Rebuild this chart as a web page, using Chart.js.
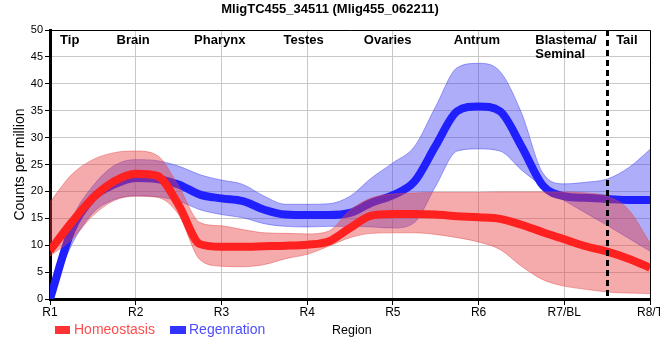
<!DOCTYPE html>
<html><head><meta charset="utf-8">
<script src="https://cdn.jsdelivr.net/npm/chart.js@4.4.1/dist/chart.umd.min.js"></script>
<style>html,body{margin:0;padding:0;background:#fff}</style>
</head><body>
<canvas id="c" width="660" height="360"></canvas>
<script>
// positions along the body (R1..R8), quarter steps
const xs = [1,1.25,1.5,1.75,2,2.25,2.5,2.75,3,3.25,3.5,3.75,4,4.25,4.5,4.75,5,5.25,5.5,5.75,6,6.25,6.5,6.75,7,7.25,7.5,7.75,8];
const homeostasis = [9.0,14.2,18.8,21.9,23.3,22.9,17.5,10.2,9.7,9.7,9.8,9.9,10.1,10.7,13.2,15.5,15.8,15.8,15.7,15.4,15.2,14.9,13.8,12.4,11.1,9.8,8.8,7.5,5.8];
const homeostasisUpper = [18,23.1,25.9,27.2,27.5,26.7,21,14.2,13.6,12.9,12.3,12.2,12.1,12.6,16.5,18.8,19.5,19.7,19.8,19.8,19.8,19.9,19.9,19.9,19.9,19.7,19.1,16.6,10.4];
const homeostasisLower = [8,11,15.5,18.3,19.1,18.9,15.7,7.3,6.1,6.0,6.4,7.5,8.3,9.8,11.4,12.2,12.3,12.3,12.0,11.4,10.6,9.2,6.1,3.6,2.4,1.8,1.3,1.1,1.0];
const regeneration = [0,12.7,18.8,21.3,22.5,22.3,21.3,19.4,18.7,18.2,16.6,15.7,15.6,15.6,16.0,17.9,19.3,21.8,28.5,34.9,35.8,34.9,28.4,21.1,19.1,18.8,18.6,18.4,18.4];
const regenerationUpper = [1,14.5,21,24.8,25.9,25.7,24.7,23.1,22.1,21.3,19.1,17.6,17.6,17.7,19.1,22.5,25.3,28.3,35.8,43.0,43.8,42.3,34.6,23.4,21.4,21.7,22.3,24.4,27.8];
const regenerationLower = [0,10,16,18.5,19.2,19.0,18.2,16.6,15.7,15.1,14.0,13.5,13.4,13.5,13.5,13.4,13.2,14.2,21.0,27.5,27.9,27.5,24,20.9,18.3,16.0,13.7,11.3,8.9];
const xTickLabels = ['R1','R2','R3','R4','R5','R6','R7/BL','R8/T'];
const regionNames = ['Tip','Brain','Pharynx','Testes','Ovaries','Antrum','Blastema/\nSeminal','Tail'];
const regionPos = [1.23,1.97,2.98,3.96,4.94,5.98,7.02,7.73];
const dashX = 7.5;
const titleText = 'MligTC455_34511 (Mlig455_062211)';

const FONT = '"Liberation Sans", Arial, sans-serif';
const pts = arr => arr.map((v,i)=>({x:xs[i], y:v}));
const common = {pointRadius:0, cubicInterpolationMode:'monotone'};

const custom = {
  id:'custom',
  afterDatasetsDraw(chart){
    const {ctx, chartArea:a, scales:{x}} = chart;
    ctx.save();
    const px = Math.round(x.getPixelForValue(dashX))+0.5;
    ctx.strokeStyle='#000'; ctx.lineWidth=3; ctx.setLineDash([6,4]);
    ctx.beginPath(); ctx.moveTo(px,a.top); ctx.lineTo(px,a.bottom); ctx.stroke();
    ctx.setLineDash([]);
    ctx.lineWidth=1;
    ctx.beginPath(); ctx.moveTo(a.left,a.top+0.5); ctx.lineTo(a.right+0.5,a.top+0.5); ctx.lineTo(a.right+0.5,a.bottom); ctx.stroke();
    ctx.restore();
  },
  afterDraw(chart){
    const {ctx, chartArea:a, scales:{x}} = chart;
    ctx.save();
    ctx.fillStyle='#000';
    ctx.font='bold 13px '+FONT; ctx.textAlign='center'; ctx.textBaseline='middle';
    ctx.fillText(titleText, 330, 9);
    ctx.font='bold 13px '+FONT; ctx.textAlign='left'; ctx.textBaseline='alphabetic';
    regionNames.forEach((n,i)=>{
      const lines=n.split('\n');
      const w=ctx.measureText(lines[0]).width;
      const left=x.getPixelForValue(regionPos[i])-w/2;
      lines.forEach((l,j)=>ctx.fillText(l,left,44+j*14));
    });
    ctx.font='12px '+FONT; ctx.textAlign='center'; ctx.textBaseline='middle';
    xTickLabels.forEach((l,i)=>ctx.fillText(l, x.getPixelForValue(i+1), 313));
    ctx.save(); ctx.translate(20,(a.top+a.bottom)/2); ctx.rotate(-Math.PI/2);
    ctx.font='14px '+FONT; ctx.fillText('Counts per million',0,0); ctx.restore();
    ctx.font='14px '+FONT; ctx.textAlign='left'; ctx.textBaseline='middle';
    ctx.fillStyle='#ff3333'; ctx.fillRect(55,326,15,8);
    ctx.fillStyle='#ff4d4d'; ctx.fillText('Homeostasis',74,330.5);
    ctx.fillStyle='#3333ff'; ctx.fillRect(170,326,16,8);
    ctx.fillStyle='#4d4dff'; ctx.fillText('Regenration',189,330.5);
    ctx.fillStyle='#000'; ctx.font='12.5px '+FONT; ctx.fillText('Region',332,331);
    ctx.restore();
  }
};

new Chart(document.getElementById('c'), {
  type:'line',
  data:{datasets:[
    {label:'Homeostasis', data:pts(homeostasis), borderColor:'#ff2020', borderWidth:8, fill:false, ...common},
    {label:'hu', data:pts(homeostasisUpper), borderColor:'rgba(225,70,70,0.45)', borderWidth:1, backgroundColor:'rgba(232,60,60,0.43)', fill:'+1', ...common},
    {label:'hl', data:pts(homeostasisLower), borderColor:'rgba(225,70,70,0.45)', borderWidth:1, fill:false, ...common},
    {label:'Regenration', data:pts(regeneration), borderColor:'#2020ff', borderWidth:8, fill:false, ...common},
    {label:'ru', data:pts(regenerationUpper), borderColor:'rgba(60,60,240,0.45)', borderWidth:1, backgroundColor:'rgba(60,60,240,0.42)', fill:'+1', ...common},
    {label:'rl', data:pts(regenerationLower), borderColor:'rgba(60,60,240,0.45)', borderWidth:1, fill:false, ...common}
  ]},
  options:{
    responsive:false, animation:false, devicePixelRatio:1,
    layout:{padding:{top:30,right:10,left:0,bottom:0}},
    plugins:{legend:{display:false}, tooltip:{enabled:false}, title:{display:false}},
    scales:{
      x:{type:'linear', min:1, max:8, ticks:{stepSize:1, display:false},
         grid:{color:'#c8c8c8', tickColor:'#000', tickLength:6, lineWidth:1},
         border:{color:'#000', width:3},
         afterFit(s){ s.height=61; }},
      y:{min:0, max:50, ticks:{stepSize:5, color:'#000', padding:2, font:{size:11, family:FONT}},
         grid:{color:'#c8c8c8', tickColor:'#000', tickLength:5, lineWidth:1},
         border:{color:'#000', width:3},
         afterFit(s){ s.width=50; }}
    }
  },
  plugins:[custom]
});
</script>
</body></html>
